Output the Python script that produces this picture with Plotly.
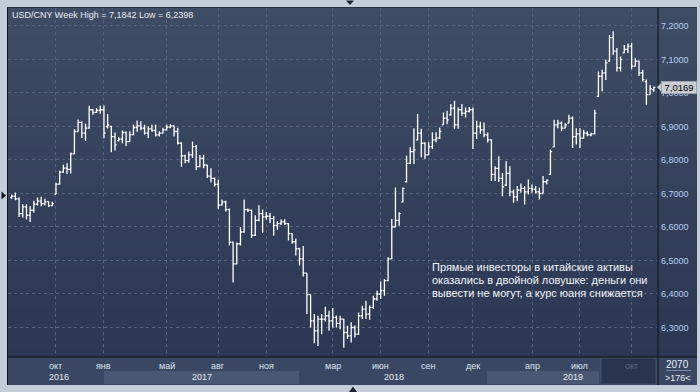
import plotly.graph_objects as go
import pandas as pd

# ---------------- data (weekly USD/CNY bars) ----------------
opens = [6.688, 6.692, 6.684, 6.640, 6.660, 6.635, 6.650, 6.668, 6.677, 6.670,
         6.676, 6.664, 6.698, 6.728, 6.764, 6.776, 6.772, 6.818, 6.885, 6.912,
         6.880, 6.895, 6.950, 6.942, 6.948, 6.950, 6.900, 6.900, 6.870, 6.858,
         6.862, 6.882, 6.855, 6.876, 6.897, 6.902, 6.895, 6.880, 6.893, 6.888,
         6.875, 6.880, 6.890, 6.898, 6.902, 6.885, 6.850, 6.812, 6.798, 6.815,
         6.840, 6.780, 6.805, 6.785, 6.752, 6.745, 6.727, 6.665, 6.675, 6.652,
         6.555, 6.490, 6.550, 6.585, 6.652, 6.650, 6.575, 6.620, 6.640, 6.630,
         6.632, 6.625, 6.605, 6.610, 6.615, 6.610, 6.580, 6.556, 6.535, 6.505,
         6.462, 6.398, 6.320, 6.290, 6.325, 6.325, 6.335, 6.320, 6.330, 6.312,
         6.325, 6.285, 6.275, 6.300, 6.280, 6.335, 6.355, 6.340, 6.360, 6.385,
         6.400, 6.410, 6.440, 6.505, 6.600, 6.620, 6.675, 6.735, 6.790, 6.825,
         6.860, 6.880, 6.850, 6.815, 6.840, 6.860, 6.865, 6.905, 6.925, 6.935,
         6.955, 6.905, 6.950, 6.940, 6.945, 6.950, 6.880, 6.900, 6.890, 6.875,
         6.860, 6.757, 6.775, 6.745, 6.725, 6.760, 6.705, 6.690, 6.710, 6.715,
         6.705, 6.715, 6.712, 6.705, 6.700, 6.735, 6.757, 6.839, 6.905, 6.910,
         6.895, 6.910, 6.925, 6.870, 6.878, 6.865, 6.880, 6.875, 6.878, 6.990,
         7.050, 7.060, 7.095, 7.165, 7.125, 7.075, 7.120, 7.130, 7.140, 7.080,
         7.095, 7.060, 7.034, 6.995, 7.010]
highs = [6.697, 6.703, 6.688, 6.668, 6.668, 6.662, 6.678, 6.688, 6.690, 6.684,
         6.677, 6.675, 6.732, 6.768, 6.786, 6.790, 6.822, 6.892, 6.921, 6.916,
         6.908, 6.962, 6.952, 6.955, 6.962, 6.963, 6.937, 6.902, 6.882, 6.868,
         6.888, 6.885, 6.886, 6.906, 6.918, 6.916, 6.905, 6.900, 6.905, 6.905,
         6.886, 6.896, 6.905, 6.907, 6.903, 6.896, 6.853, 6.816, 6.825, 6.855,
         6.845, 6.815, 6.816, 6.786, 6.775, 6.748, 6.741, 6.682, 6.678, 6.655,
         6.556, 6.554, 6.600, 6.682, 6.655, 6.652, 6.635, 6.665, 6.652, 6.645,
         6.642, 6.633, 6.617, 6.622, 6.623, 6.612, 6.582, 6.566, 6.538, 6.543,
         6.462, 6.398, 6.340, 6.335, 6.340, 6.362, 6.350, 6.358, 6.336, 6.335,
         6.326, 6.305, 6.316, 6.306, 6.345, 6.365, 6.380, 6.366, 6.395, 6.410,
         6.437, 6.445, 6.510, 6.624, 6.718, 6.644, 6.718, 6.813, 6.838, 6.895,
         6.937, 6.893, 6.853, 6.853, 6.883, 6.883, 6.897, 6.942, 6.947, 6.967,
         6.977, 6.957, 6.967, 6.957, 6.958, 6.957, 6.917, 6.914, 6.912, 6.882,
         6.862, 6.781, 6.811, 6.761, 6.796, 6.781, 6.712, 6.722, 6.730, 6.722,
         6.742, 6.727, 6.722, 6.717, 6.752, 6.742, 6.831, 6.920, 6.920, 6.915,
         6.910, 6.935, 6.930, 6.895, 6.895, 6.890, 6.886, 6.881, 6.950, 7.064,
         7.069, 7.099, 7.173, 7.1842, 7.134, 7.109, 7.143, 7.148, 7.150, 7.104,
         7.096, 7.069, 7.040, 7.024, 7.019]
lows = [6.684, 6.680, 6.630, 6.628, 6.622, 6.615, 6.643, 6.664, 6.662, 6.664,
        6.660, 6.662, 6.698, 6.726, 6.762, 6.758, 6.760, 6.818, 6.884, 6.866,
        6.857, 6.893, 6.935, 6.940, 6.938, 6.865, 6.894, 6.823, 6.828, 6.855,
        6.850, 6.842, 6.855, 6.874, 6.884, 6.889, 6.876, 6.866, 6.884, 6.870,
        6.870, 6.879, 6.888, 6.895, 6.870, 6.846, 6.780, 6.790, 6.792, 6.806,
        6.770, 6.778, 6.775, 6.746, 6.733, 6.721, 6.653, 6.664, 6.646, 6.545,
        6.434, 6.488, 6.545, 6.583, 6.645, 6.567, 6.573, 6.617, 6.582, 6.622,
        6.612, 6.574, 6.592, 6.606, 6.606, 6.560, 6.550, 6.515, 6.485, 6.452,
        6.340, 6.300, 6.253, 6.245, 6.280, 6.318, 6.290, 6.300, 6.300, 6.295,
        6.2398, 6.266, 6.255, 6.270, 6.278, 6.325, 6.325, 6.323, 6.355, 6.380,
        6.385, 6.395, 6.438, 6.504, 6.600, 6.604, 6.673, 6.733, 6.788, 6.788,
        6.858, 6.808, 6.803, 6.815, 6.833, 6.853, 6.863, 6.905, 6.907, 6.932,
        6.893, 6.893, 6.932, 6.927, 6.942, 6.833, 6.863, 6.878, 6.868, 6.852,
        6.737, 6.737, 6.734, 6.692, 6.722, 6.692, 6.672, 6.677, 6.702, 6.667,
        6.697, 6.702, 6.700, 6.682, 6.700, 6.727, 6.757, 6.839, 6.895, 6.886,
        6.895, 6.910, 6.836, 6.846, 6.836, 6.864, 6.871, 6.871, 6.876, 6.988,
        7.005, 7.039, 7.094, 7.114, 7.064, 7.064, 7.119, 7.119, 7.071, 7.079,
        7.051, 7.034, 6.965, 6.995, 7.004]
closes = [6.692, 6.684, 6.640, 6.660, 6.635, 6.650, 6.668, 6.677, 6.670, 6.676,
          6.664, 6.670, 6.728, 6.764, 6.776, 6.772, 6.818, 6.885, 6.912, 6.880,
          6.895, 6.950, 6.942, 6.948, 6.950, 6.880, 6.905, 6.870, 6.845, 6.862,
          6.882, 6.855, 6.876, 6.897, 6.902, 6.895, 6.880, 6.893, 6.888, 6.875,
          6.880, 6.890, 6.898, 6.902, 6.885, 6.850, 6.812, 6.798, 6.815, 6.840,
          6.780, 6.805, 6.785, 6.752, 6.745, 6.727, 6.665, 6.675, 6.652, 6.555,
          6.490, 6.550, 6.585, 6.652, 6.650, 6.575, 6.620, 6.640, 6.630, 6.632,
          6.625, 6.605, 6.610, 6.615, 6.610, 6.580, 6.556, 6.535, 6.505, 6.462,
          6.398, 6.320, 6.290, 6.325, 6.325, 6.335, 6.320, 6.330, 6.312, 6.325,
          6.285, 6.275, 6.300, 6.280, 6.335, 6.355, 6.340, 6.360, 6.385, 6.400,
          6.410, 6.440, 6.505, 6.600, 6.620, 6.640, 6.715, 6.790, 6.825, 6.830,
          6.880, 6.850, 6.815, 6.840, 6.860, 6.865, 6.885, 6.925, 6.920, 6.955,
          6.905, 6.950, 6.940, 6.945, 6.950, 6.880, 6.900, 6.890, 6.875, 6.860,
          6.757, 6.775, 6.745, 6.720, 6.760, 6.705, 6.690, 6.710, 6.715, 6.705,
          6.715, 6.712, 6.705, 6.700, 6.735, 6.740, 6.825, 6.905, 6.910, 6.895,
          6.905, 6.925, 6.870, 6.878, 6.865, 6.880, 6.875, 6.878, 6.940, 7.050,
          7.060, 7.090, 7.165, 7.125, 7.075, 7.100, 7.130, 7.140, 7.080, 7.095,
          7.060, 7.040, 6.995, 7.012, 7.0169]
weeks = pd.date_range("2016-07-11", periods=len(closes), freq="7D")

month_ticks = ["2016-10-03", "2017-01-02", "2017-05-01", "2017-08-07", "2017-11-06",
               "2018-03-12", "2018-06-11", "2018-09-10", "2018-12-03", "2019-03-25",
               "2019-06-24", "2019-09-30"]
month_labels = ["окт", "янв", "май", "авг", "ноя", "мар", "июн", "сен", "дек", "апр",
                "июл", "окт"]
year_labels = ["2016", "2017", "2018", "2019"]
y_ticks = [6.3, 6.4, 6.5, 6.6, 6.7, 6.8, 6.9, 7.0, 7.1, 7.2]
title_text = "USD/CNY Week High = 7,1842 Low = 6,2398"
note_lines = ["Прямые инвесторы в китайские активы",
              "оказались в двойной ловушке: деньги они",
              "вывести не могут, а курс юаня снижается"]
last_price = 7.0169

# ---------------- layout helpers (pixel -> paper) ----------------
W, H = 700, 392
L, R, T, B = 8, 658, 8, 357
FONT = "Liberation Sans, Arial, sans-serif"


def px(x):
    return (x - L) / (R - L)


def py(y):
    return (B - y) / (B - T)


def rect(x0, y0, x1, y1, color, line=None):
    return dict(type="rect", xref="paper", yref="paper", x0=px(x0), x1=px(x1),
                y0=py(y1), y1=py(y0), fillcolor=color,
                line=dict(width=0) if line is None else line, layer="below")


def hline(x0, x1, y, color, w=1):
    return dict(type="line", xref="paper", yref="paper", x0=px(x0), x1=px(x1),
                y0=py(y), y1=py(y), line=dict(color=color, width=w), layer="above")


def vline(x, y0, y1, color, w=1):
    return dict(type="line", xref="paper", yref="paper", x0=px(x), x1=px(x),
                y0=py(y0), y1=py(y1), line=dict(color=color, width=w), layer="above")


def tri(points, color):
    path = "M " + " L ".join(f"{px(a)},{py(b)}" for a, b in points) + " Z"
    return dict(type="path", xref="paper", yref="paper", path=path,
                fillcolor=color, line=dict(width=0), layer="above")


shapes = []
# vertical gradient of the chart body (plot + right scale)
top_c = (63, 76, 101)
bot_c = (43, 55, 83)
N = 35
y_start, y_end = 7, 357
dy = (y_end - y_start) / N
for i in range(N):
    t = i / (N - 1)
    c = tuple(round(top_c[k] + (bot_c[k] - top_c[k]) * t) for k in range(3))
    shapes.append(rect(7.5, y_start + i * dy, 697, y_start + (i + 1) * dy + 0.6,
                       f"rgb{c}"))
# time-axis band
shapes.append(rect(7.5, 357, 697, 385, "#3a4762"))
shapes.append(rect(104, 371, 299, 384, "#4a5773"))
shapes.append(rect(487, 371, 599, 384, "#4a5773"))
shapes.append(rect(601, 358, 656, 384, "#29344e",
                   line=dict(color="#46526c", width=1)))
# frame lines
shapes.append(vline(7.5, 7, 385, "#10141c"))
shapes.append(vline(658, 7, 385, "#0c1018"))
shapes.append(hline(7.5, 697, 357, "#0c1018"))
shapes.append(hline(7.5, 697, 7.5, "#28303f"))
shapes.append(hline(666, 691, 370.5, "#7a86a0"))
# small navigator arrows
shapes.append(tri([(1.5, 191.5), (6, 195.5), (1.5, 199.5)], "#111620"))
shapes.append(tri([(346, 0.5), (354, 0.5), (350, 5)], "#1c2433"))
shapes.append(tri([(349, 392), (357, 392), (353, 386.5)], "#1c2433"))
# last-price pointer
ly = 26 + (7.2 - last_price) * 335
shapes.append(tri([(657, ly), (661.5, ly - 4.5), (661.5, ly + 4.5)], "#c9cdd3"))

annotations = []
annotations.append(dict(text=title_text, xref="paper", yref="paper", x=px(10),
                        y=py(15), xanchor="left", yanchor="middle", showarrow=False,
                        font=dict(family=FONT, size=9, color="#e6ecf5")))
for i, line in enumerate(note_lines):
    annotations.append(dict(text=line, xref="paper", yref="paper", x=px(430),
                            y=py(267 + 12.8 * i), xanchor="left", yanchor="middle",
                            showarrow=False,
                            font=dict(family=FONT, size=11, color="#f2f5fa")))
for d, lab in zip(month_ticks, month_labels):
    col = "#5d6985" if d >= "2019-08-01" else "#dbe4f2"
    annotations.append(dict(text=lab, xref="x", yref="paper", x=d, y=py(366),
                            xanchor="center", yanchor="middle", showarrow=False,
                            font=dict(family=FONT, size=9, color=col)))
for xp, lab in zip([59, 202, 394, 573], year_labels):
    annotations.append(dict(text=lab, xref="paper", yref="paper", x=px(xp), y=py(377),
                            xanchor="center", yanchor="middle", showarrow=False,
                            font=dict(family=FONT, size=9, color="#e4eaf4")))
annotations.append(dict(text="7,0169", xref="paper", yref="y", x=px(679), y=last_price,
                        xanchor="center", yanchor="middle", showarrow=False,
                        bgcolor="#c9cdd3", bordercolor="#9ca3ad", borderwidth=1,
                        borderpad=0, width=34, height=11,
                        font=dict(family=FONT, size=9.5, color="#000000")))
annotations.append(dict(text="2070", xref="paper", yref="paper", x=px(678), y=py(364.5),
                        xanchor="center", yanchor="middle", showarrow=False,
                        font=dict(family=FONT, size=10, color="#e8eef8")))
annotations.append(dict(text="&gt;176&lt;", xref="paper", yref="paper", x=px(678),
                        y=py(377.5), xanchor="center", yanchor="middle",
                        showarrow=False,
                        font=dict(family=FONT, size=9, color="#e8eef8")))

bar_style = dict(line=dict(color="#ffffff", width=1.3))
fig = go.Figure(go.Ohlc(x=weeks, open=opens, high=highs, low=lows, close=closes,
                        increasing=bar_style, decreasing=bar_style, tickwidth=0.45,
                        hoverinfo="skip", showlegend=False))

fig.update_layout(
    width=W, height=H,
    margin=dict(l=L, r=W - R, t=T, b=H - B),
    paper_bgcolor="#c4cedb",
    plot_bgcolor="rgba(0,0,0,0)",
    separators=", ",
    shapes=shapes,
    annotations=annotations,
    showlegend=False,
    xaxis=dict(type="date", range=["2016-07-04", "2019-11-19"],
               tickvals=month_ticks, showticklabels=False, ticks="",
               showgrid=True, gridcolor="#56637f", griddash="3px,3px", gridwidth=1,
               zeroline=False, showline=False, rangeslider=dict(visible=False),
               fixedrange=True),
    yaxis=dict(side="right", range=[6.2119, 7.2537], tickvals=y_ticks,
               tickformat=".4f", ticks="", ticklabelstandoff=2,
               tickfont=dict(family=FONT, size=9, color="#b9d0f0"),
               showgrid=True, gridcolor="#56637f", griddash="3px,3px", gridwidth=1,
               zeroline=False, showline=False, fixedrange=True),
)

fig.write_html("out.html", config={"displayModeBar": False},
               post_script="document.body.style.margin='0';"
                           "document.body.style.overflow='hidden';")
